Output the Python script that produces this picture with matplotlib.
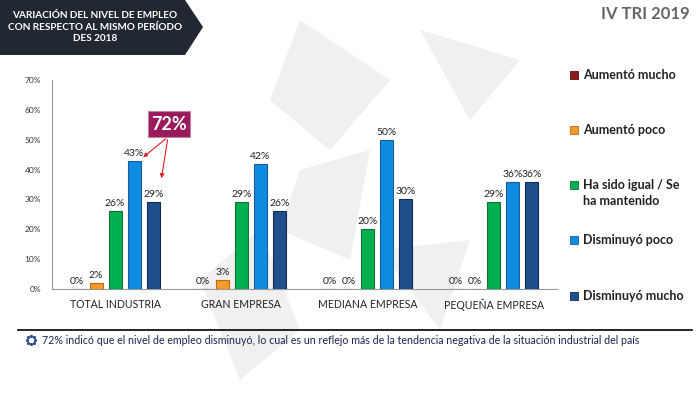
import matplotlib.pyplot as plt
import numpy as np
from matplotlib.patches import Polygon, Rectangle

plt.rcParams['font.family'] = ['Lato', 'DejaVu Sans']

categorias = ['TOTAL INDUSTRIA', 'GRAN EMPRESA', 'MEDIANA EMPRESA', 'PEQUEÑA EMPRESA']
series = ['Aumentó mucho', 'Aumentó poco', 'Ha sido igual / Se\nha mantenido',
          'Disminuyó poco', 'Disminuyó mucho']
aumento_mucho = [0, 0, 0, 0]
aumento_poco = [2, 3, 0, 0]
igual = [26, 29, 20, 29]
dism_poco = [43, 42, 50, 36]
dism_mucho = [29, 26, 30, 36]
valores = [aumento_mucho, aumento_poco, igual, dism_poco, dism_mucho]
colores = ['#8b1a1a', '#f39a2c', '#00b050', '#0f8be0', '#1f4e8c']
bordes = ['#5a1010', '#c06a10', '#1a6e36', '#1a5a9a', '#0e2a55']

fig = plt.figure(figsize=(7, 3.94), dpi=100)
W, H = 700, 394

# watermark (light gray shapes) on a background axes
bg = fig.add_axes([0, 0, 1, 1], zorder=-5)
bg.set_xlim(0, W)
bg.set_ylim(H, 0)
bg.axis('off')
wm = [[(300, 20), (390, 80), (330, 150), (270, 100)],
      [(420, 30), (520, 60), (470, 120)],
      [(300, 170), (370, 150), (350, 260), (280, 230)],
      [(380, 250), (470, 240), (440, 330)],
      [(200, 280), (260, 230), (300, 330), (240, 380)]]
for pts in wm:
    bg.add_patch(Polygon(pts, closed=True, facecolor='#f0f0f0', edgecolor='none'))

ax = fig.add_axes([52 / W, 1 - 289 / H, 505 / W, 209 / H], zorder=1)
ax.patch.set_alpha(0)
x = np.arange(len(categorias))
paso = 19 / 126
ancho = 13 / 126
for i, (vals, c, b) in enumerate(zip(valores, colores, bordes)):
    pos = x + (i - 2) * paso
    ax.bar(pos, vals, ancho, color=c, edgecolor=b, linewidth=0.8, zorder=3)
    for p, v in zip(pos, vals):
        ax.text(p, v + 1, f'{v}%', ha='center', va='bottom', fontsize=7.5, color='#222222')

ax.set_xlim(-0.5, 3.5)
ax.set_ylim(0, 70)
ax.set_yticks(range(0, 71, 10))
ax.set_yticklabels([f'{t}%' for t in range(0, 71, 10)], fontsize=6, color='#333333')
ax.set_xticks(x)
ax.set_xticklabels(categorias, fontsize=7.6, color='#222222')
ax.tick_params(length=0, pad=7)
ax.tick_params(axis='y', pad=8)
for s in ['top', 'right']:
    ax.spines[s].set_visible(False)
ax.spines['left'].set_color('#999999')
ax.spines['bottom'].set_color('#999999')

# overlay axes for annotations in pixel coords
ov = fig.add_axes([0, 0, 1, 1], zorder=3)
ov.set_xlim(0, W)
ov.set_ylim(H, 0)
ov.axis('off')

# 72% callout
ov.add_patch(Rectangle((148, 111), 42, 26, facecolor='#9a1b5c', edgecolor='#c080a0', lw=0.8))
ov.text(169, 124, '72%', ha='center', va='center', fontsize=13, fontweight='bold', color='white')
for tx, ty in [(141, 159), (161, 181)]:
    ov.annotate('', xy=(tx, ty), xytext=(168, 137),
                arrowprops=dict(arrowstyle='-|>', color='#e02020', lw=0.8, mutation_scale=6))

# legend
leg = [(series[0], 75), (series[1], 130), ('Ha sido igual / Se', 185),
       ('ha mantenido', 201), (series[3], 240), (series[4], 296)]
sq = [75, 130, 185, 240, 296]
for c, b, yy in zip(colores, bordes, sq):
    ov.add_patch(Rectangle((570, yy - 4), 8, 8, facecolor=c, edgecolor=b, lw=0.6))
for lab, yy in leg:
    ov.text(583, yy, lab, ha='left', va='center', fontsize=9, fontweight='bold', color='#222222')

# title banner
ov.add_patch(Polygon([(0, 0), (185, 0), (203, 27), (185, 55), (0, 55)], closed=True,
                     facecolor='#222831', edgecolor='none'))
ov.text(95, 27, 'VARIACIÓN DEL NIVEL DE EMPLEO\nCON RESPECTO AL MISMO PERÍODO\nDES 2018',
        ha='center', va='center', fontsize=7.2, fontweight='bold', color='white', linespacing=1.4)
ov.text(690, 14, 'IV TRI 2019', ha='right', va='center', fontsize=12, fontweight='bold', color='#666666')

# bottom note
ov.plot([18, 692], [330, 330], color='black', lw=1.2)
ang = np.linspace(0, 2 * np.pi, 9)[:-1]
ov.plot(31 + 4 * np.cos(ang), 340 + 4 * np.sin(ang), ls='none', marker='o', ms=1.3, color='#2a4a8a')
ov.text(42, 341,
        '72% indicó que el nivel de empleo disminuyó, lo cual es un reflejo más de la tendencia negativa de la situación industrial del país',
        ha='left', va='center', fontsize=7.7, color='#1a2450')

plt.savefig('out.png', dpi=100)
plt.close()
